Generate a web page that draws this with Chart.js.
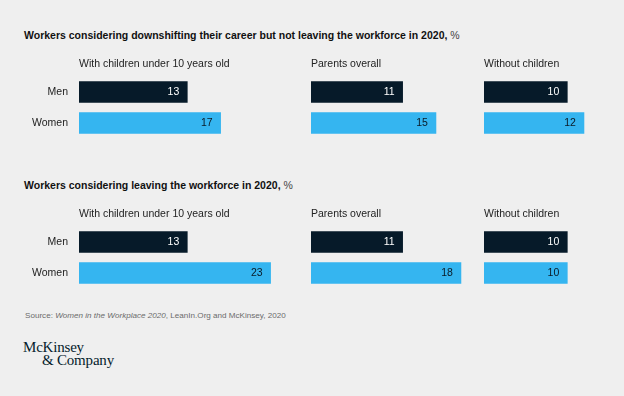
<!DOCTYPE html>
<html>
<head>
<meta charset="utf-8">
<script src="https://cdn.jsdelivr.net/npm/chart.js@4"></script>
<style>
  body { margin: 0; background: #efefef; }
  #page { position: relative; width: 624px; height: 396px; background: #efefef; overflow: hidden; font-family: "Liberation Sans", Arial, sans-serif; }
  .title { position: absolute; left: 24px; font-size: 10.5px; line-height: 13px; color: #111; white-space: nowrap; }
  .title b { font-weight: bold; }
  .title span { color: #444; }
  canvas { position: absolute; left: 0; }
  #source { position: absolute; left: 25px; top: 309.5px; font-size: 8.1px; line-height: 11px; color: #6b6b6b; white-space: nowrap; }
  #logo { position: absolute; left: 23px; top: 341px; font-family: "Liberation Serif", "DejaVu Serif", serif; font-size: 15px; line-height: 12.5px; color: #051c2c; letter-spacing: -0.2px; }
  #logo div + div { padding-left: 19px; }
</style>
</head>
<body>
<div id="page">
  <div class="title" style="top:28.5px"><b>Workers considering downshifting their career but not leaving the workforce in 2020,</b> <span>%</span></div>
  <canvas id="downshift" width="624" height="95" style="top:50px"></canvas>

  <div class="title" style="top:178.5px"><b>Workers considering leaving the workforce in 2020,</b> <span>%</span></div>
  <canvas id="leaving" width="624" height="95" style="top:200px"></canvas>

  <div id="source">Source: <i>Women in the Workplace 2020</i>, LeanIn.Org and McKinsey, 2020</div>
  <div id="logo"><div>McKinsey</div><div>&amp; Company</div></div>
</div>

<script>
const genders = ["Men", "Women"];
const groups = ["With children under 10 years old", "Parents overall", "Without children"];

// % of workers, one value per group
const downshiftMen = [13, 11, 10];
const downshiftWomen = [17, 15, 12];
const leavingMen = [13, 11, 10];
const leavingWomen = [23, 18, 10];

const NAVY = "#061a29";
const SKY = "#35b5f0";
const TEXT = "#222";
const FONT = '"Liberation Sans", Arial, sans-serif';
const PX_PER_UNIT = 8.33;
const groupWidths = [232, 173, 120]; // px given to each group column

// value label at the end of each bar
const valueLabels = {
  id: "valueLabels",
  afterDatasetsDraw(chart) {
    const ctx = chart.ctx;
    ctx.save();
    ctx.font = "10.5px " + FONT;
    ctx.textAlign = "right";
    ctx.textBaseline = "middle";
    chart.data.datasets.forEach((ds, i) => {
      chart.getDatasetMeta(i).data.forEach((bar, j) => {
        ctx.fillStyle = j === 0 ? "#fff" : "#0a1a26";
        ctx.fillText(ds.data[j], bar.x - 8, bar.y + 0.5);
      });
    });
    ctx.restore();
  }
};

function makeChart(id, men, women) {
  const scales = {
    y: {
      type: "category",
      grid: { display: false, drawTicks: false },
      border: { display: false },
      ticks: { padding: 11, color: TEXT, font: { family: FONT, size: 10.5 } },
      afterFit: s => {
        s.width = 79;
        s.paddingTop = 0;
        s.paddingBottom = 0;
      }
    }
  };
  // top boxes are laid out in reverse order, so add the columns last to first
  for (let i = groups.length - 1; i >= 0; i--) {
    scales["x" + i] = {
      type: "linear",
      position: "top",
      stack: "groups",
      stackWeight: groupWidths[i],
      min: 0,
      max: groupWidths[i] / PX_PER_UNIT,
      grid: { display: false, drawTicks: false },
      border: { display: false },
      ticks: { display: false },
      title: {
        display: true,
        text: groups[i],
        align: "start",
        color: TEXT,
        font: { family: FONT, size: 10.5 },
        padding: { top: 8, bottom: 0 }
      },
      afterFit: s => { s.height = 26.5; }
    };
  }

  new Chart(document.getElementById(id), {
    type: "bar",
    data: {
      labels: genders,
      datasets: groups.map((g, i) => ({
        label: g,
        data: [men[i], women[i]],
        xAxisID: "x" + i,
        backgroundColor: [NAVY, SKY],
        grouped: false,
        barThickness: 21
      }))
    },
    options: {
      indexAxis: "y",
      responsive: false,
      animation: false,
      layout: { padding: { left: 0, right: 20, top: 0, bottom: 6.5 } },
      scales: scales,
      plugins: {
        legend: { display: false },
        tooltip: { enabled: false }
      }
    },
    plugins: [valueLabels]
  });
}

makeChart("downshift", downshiftMen, downshiftWomen);
makeChart("leaving", leavingMen, leavingWomen);
</script>
</body>
</html>
